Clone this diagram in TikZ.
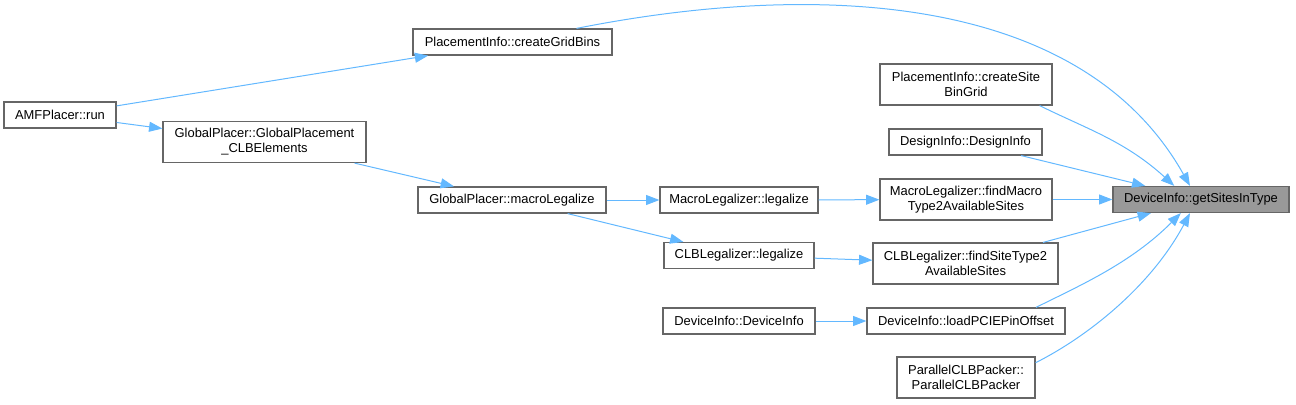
\documentclass[tikz,border=0pt]{standalone}
\usepackage{fontspec}
\setmainfont{Liberation Sans}
\usetikzlibrary{arrows.meta}
\definecolor{boxline}{HTML}{666666}
\definecolor{rootfill}{HTML}{999999}
\definecolor{edgeblue}{HTML}{63B8FF}

\begin{document}
\begin{tikzpicture}[x=0.75pt,y=-0.75pt,
	fn/.style={draw=boxline,line width=0.9pt,fill=white,inner sep=0pt,
		minimum height=19.5pt,align=center,font=\fontsize{9.7}{11.3}\selectfont},
	fntwo/.style={fn,minimum height=30.75pt},
	root/.style={fn,fill=rootfill},
	call/.style={draw=edgeblue,line width=0.75pt,-{Triangle[length=10pt,width=7.5pt]}}]
			\useasboundingbox (0,0) rectangle (1296,404);
			
			\node[fn,minimum width=84pt] (amf) at (60,115) {AMFPlacer::run};
			\node[fn,minimum width=149.25pt] (gridbins) at (512.5,42) {PlacementInfo::createGridBins};
			\node[fntwo,minimum width=152.25pt] (global) at (264.5,142) {GlobalPlacer::GlobalPlacement\\\_CLBElements};
			\node[fn,minimum width=141pt] (macroleg) at (512,200) {GlobalPlacer::macroLegalize};
			
			\node[fn,minimum width=118.5pt] (mlegal) at (739,200) {MacroLegalizer::legalize};
			\node[fn,minimum width=112.5pt] (clblegal) at (739,255.5) {CLBLegalizer::legalize};
			\node[fn,minimum width=114pt] (devinfo) at (739,321) {DeviceInfo::DeviceInfo};
			
			\node[fntwo,minimum width=129pt] (sitebin) at (966,84.5) {PlacementInfo::createSite\\BinGrid};
			\node[fn,minimum width=114.75pt] (design) at (965.5,142) {DesignInfo::DesignInfo};
			\node[fntwo,minimum width=129pt] (findmacro) at (966,199.5) {MacroLegalizer::findMacro\\Type2AvailableSites};
			\node[fntwo,minimum width=138.75pt] (findsite) at (965.5,263.5) {CLBLegalizer::findSiteType2\\AvailableSites};
			\node[fn,minimum width=148.5pt] (pcie) at (966,321) {DeviceInfo::loadPCIEPinOffset};
			\node[fntwo,minimum width=103.5pt] (packer) at (966,377.5) {ParallelCLBPacker::\\ParallelCLBPacker};
			
			\node[root,minimum width=132pt] (sites) at (1201,199.5) {DeviceInfo::getSitesInType};
			
			\draw[call] (amf) -- (gridbins);
			\draw[call] (amf) -- (global);
			\draw[call] (global) -- (macroleg);
			\draw[call] (macroleg) -- (mlegal);
			\draw[call] (macroleg) -- (clblegal);
			\draw[call] (mlegal) -- (findmacro);
			\draw[call] (clblegal) -- (findsite);
			\draw[call] (devinfo) -- (pcie);
			
			\draw[call] (gridbins.12) .. controls (810,-18) and (1080,-10) .. (sites.129);
			\draw[call] (sitebin.-16) .. controls (1087,129) and (1125,141) .. (sites.153);
			\draw[call] (design) -- (sites);
			\draw[call] (findmacro) -- (sites);
			\draw[call] (findsite) -- (sites);
			\draw[call] (pcie.11) .. controls (1081,285) and (1131,263) .. (sites.214);
			\draw[call] (packer.12) .. controls (1085,338) and (1150,288) .. (sites.231);
		\end{tikzpicture}
\end{document}
